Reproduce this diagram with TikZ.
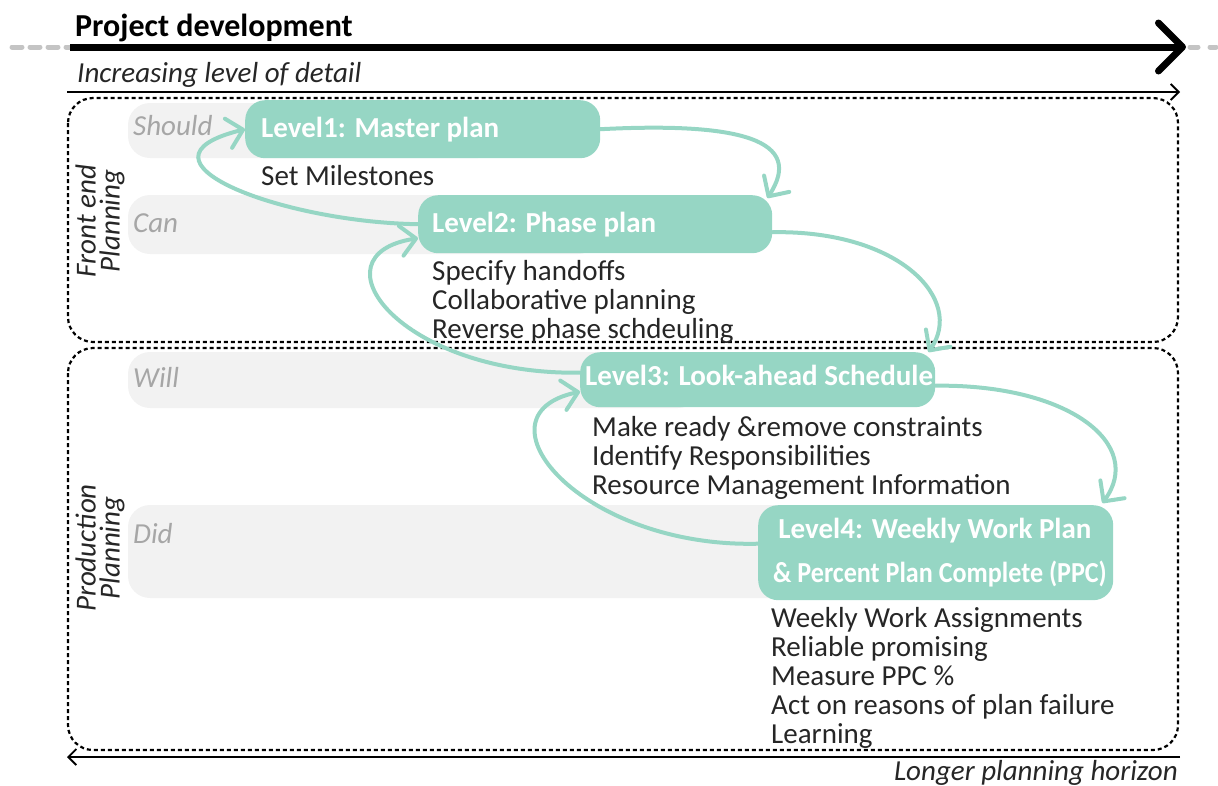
\documentclass[tikz,border=0pt]{standalone}
\usepackage{fontspec}
\usepackage{graphicx}
\setmainfont{Carlito}
\usetikzlibrary{arrows.meta}
\definecolor{lgreen}{HTML}{96D6C4}
\definecolor{bandc}{HTML}{F2F2F2}
\definecolor{lblgray}{HTML}{A6A6A6}
\definecolor{dashgray}{HTML}{C4C4C4}
\definecolor{txt}{HTML}{262626}
\begin{document}
\begin{tikzpicture}[x=1pt,y=-1pt,
  bandbox/.style={fill=bandc, rounded corners=22pt},
  lvlbox/.style={fill=lgreen, rounded corners=20pt, inner sep=0pt, anchor=north west},
  lvltext/.style={text=white, font=\fontsize{29}{29}\selectfont\bfseries, inner sep=0pt, anchor=base west},
  desc/.style={font=\fontsize{29}{29}\selectfont, align=left, anchor=base west, inner sep=0pt, text=txt},
  lbl/.style={font=\fontsize{29}{29}\selectfont\itshape, text=lblgray, anchor=base west, inner sep=0pt},
  sidelbl/.style={rotate=90, align=center, font=\fontsize{29}{24}\selectfont\itshape, inner sep=0pt, text=txt},
  flow/.style={draw=lgreen, line width=4pt, line cap=round, -{Straight Barb[length=15pt,width=30pt,round]}},
  framebox/.style={draw=black, line width=2.2pt, dash pattern=on 4pt off 3pt, rounded corners=25pt},
  thinarrow/.style={draw=black, line width=1.8pt, -{Straight Barb[length=8pt,width=16pt]}},
  ]
\useasboundingbox (0,0) rectangle (1218,785);

% bands
\fill[bandbox] (128,103) rectangle (500,158);
\fill[bandbox] (128,195) rectangle (600,254);
\fill[bandbox] (128,352) rectangle (700,408);
\fill[bandbox] (128,505) rectangle (900,598);

\node[lbl] (sh) at (133,135) {Should};
\node[lbl] (cn) at (133,232) {Can};
\node[lbl] (wl) at (133,387) {Will};
\node[lbl] (dd) at (133,543) {Did};

% frames
\draw[framebox] (68,98) rectangle (1178,342);
\draw[framebox] (68,348) rectangle (1178,750);

% top axis
\coordinate (gl0) at (12,47);
\coordinate (ts) at (70,47);
\coordinate (te) at (1186,47);
\coordinate (gr0) at (1190,47);
\coordinate (gr1) at (1216,47);
\draw[dashgray, line width=5pt, line cap=round, dash pattern=on 10pt off 8pt] (gl0) -- (ts);
\draw[dashgray, line width=5pt, line cap=round, dash pattern=on 8pt off 12pt] (gr0) -- (gr1);
\draw[black, line width=7pt, -{Straight Barb[length=24pt,width=48pt,round]}] (ts) -- (te);
\node[font=\fontsize{32}{34}\selectfont\bfseries, anchor=base west, inner sep=0pt] (title) at (75,36) {Project development};

\node[font=\fontsize{29}{29}\selectfont\itshape, anchor=base west, inner sep=0pt, text=txt] (incr) at (77,82) {Increasing level of detail};
\coordinate (a1s) at (67,92);
\coordinate (a1e) at (1180,92);
\draw[thinarrow] (a1s) -- (a1e);

\coordinate (a2s) at (1180,757);
\coordinate (a2e) at (67,757);
\draw[thinarrow] (a2s) -- (a2e);
\node[font=\fontsize{29}{29}\selectfont\itshape, anchor=base east, inner sep=0pt, text=txt] (longer) at (1178,780) {Longer planning horizon};

\node[sidelbl] (fep) at (100,221) {Front end\\Planning};
\node[sidelbl] (prp) at (100,548) {Production\\Planning};

% level boxes
\node[lvlbox, minimum width=355pt, minimum height=58pt] (L1) at (245,100) {};
\node[lvlbox, minimum width=354pt, minimum height=58pt] (L2) at (418,195) {};
\node[lvlbox, minimum width=355pt, minimum height=55pt] (L3) at (580,352) {};
\node[lvlbox, minimum width=355pt, minimum height=95pt] (L4) at (758,505) {};

\node[lvltext] (t1) at (261,137) {Level1: Master plan};
\node[lvltext] (t2) at (432,232) {Level2: Phase plan};
\node[lvltext] (t3) at (585,385) {Level3: Look-ahead Schedule};
\node[lvltext, anchor=base] (t4a) at (935,538) {Level4: Weekly Work Plan};
\node[lvltext, anchor=base] (t4b) at (940,582) {\scalebox{0.90}[1]{\& Percent Plan Complete (PPC)}};

% descriptions (base anchor = last line)
\node[desc] (d1) at (261,185) {Set Milestones};
\node[desc] (d2) at (432,338) {Specify handoffs\\Collaborative planning\\Reverse phase schdeuling};
\node[desc] (d3) at (592,494) {Make ready \&remove constraints\\Identify Responsibilities\\Resource Management Information};
\node[desc] (d4) at (771,743) {Weekly Work Assignments\\Reliable promising\\Measure PPC \%\\Act on reasons of plan failure\\Learning};

% flows
\draw[flow] (L1.east) .. controls (740,122) and (805,140) .. ([xshift=-5pt,yshift=-3pt]L2.north east);
\draw[flow] (L2.west) .. controls (280,222) and (120,160) .. (L1.west);
\draw[flow] ([yshift=-8pt]L2.east) .. controls (900,230) and (965,300) .. ([xshift=-7pt]L3.north east);
\draw[flow] ([yshift=7pt]L3.west) .. controls (400,375) and (310,255) .. ([yshift=-14pt]L2.west);
\draw[flow] ([yshift=-6pt]L3.east) .. controls (1070,384) and (1145,445) .. ([xshift=-11pt,yshift=2pt]L4.north east);
\draw[flow] ([yshift=9pt]L4.west) .. controls (580,548) and (470,415) .. ([yshift=-12pt]L3.west);
\end{tikzpicture}
\end{document}
